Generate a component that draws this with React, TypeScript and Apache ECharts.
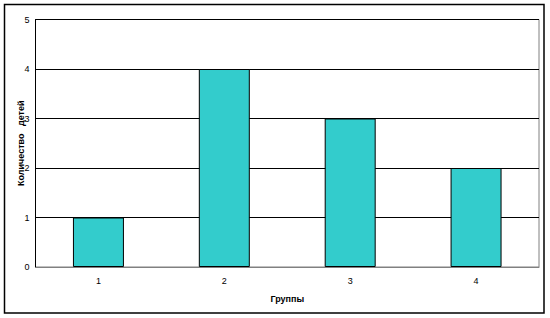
import React, { useEffect, useRef } from "react";
import * as echarts from "echarts";

const categories = ["1", "2", "3", "4"];
const values = [1, 4, 3, 2];
const yTicks = [0, 1, 2, 3, 4, 5];

export default function App() {
  const ref = useRef<HTMLDivElement>(null);
  useEffect(() => {
    if (!ref.current) return;
    const chart = echarts.init(ref.current, null, { renderer: "svg" });
    chart.setOption({
      animation: false,
      backgroundColor: "#ffffff",
      textStyle: { fontFamily: "Liberation Sans, Arial, sans-serif" },
      graphic: [
        {
          type: "rect",
          shape: { x: 4.5, y: 4.5, width: 539.5, height: 308.5 },
          style: { fill: "none", stroke: "#000", lineWidth: 1.5 },
          silent: true,
        },
        {
          type: "rect",
          shape: { x: 35.5, y: 19.5, width: 503.5, height: 247.5 },
          style: { fill: "none", stroke: "#808080", lineWidth: 1 },
          silent: true,
          z: -1,
        },
      ],
      grid: { left: 35.5, top: 19.5, right: 11, bottom: 51, containLabel: false },
      xAxis: {
        type: "category",
        data: categories,
        name: "Группы",
        nameLocation: "middle",
        nameGap: 27,
        nameMoveOverlap: false,
        nameTextStyle: { fontSize: 9, fontWeight: "bold", color: "#000" },
        axisLine: { lineStyle: { color: "#808080", width: 1 } },
        axisTick: { show: false },
        axisLabel: { fontSize: 9, color: "#000", margin: 9 },
      },
      yAxis: {
        type: "value",
        min: yTicks[0],
        max: yTicks[yTicks.length - 1],
        interval: 1,
        name: "Количество   детей",
        nameLocation: "middle",
        nameGap: 10,
        nameMoveOverlap: false,
        nameRotate: 90,
        nameTextStyle: { fontSize: 9, fontWeight: "bold", color: "#000" },
        axisLine: { show: true, lineStyle: { color: "#000", width: 1 } },
        axisTick: { show: false },
        axisLabel: { fontSize: 9, color: "#000", margin: 6 },
        splitLine: { lineStyle: { color: "#000", width: 1 } },
      },
      series: [
        {
          type: "bar",
          data: values,
          barWidth: "40.5%",
          itemStyle: { color: "#33CCCC", borderColor: "#000", borderWidth: 1 },
        },
      ],
    });
    return () => chart.dispose();
  }, []);
  return (
    <div
      ref={ref}
      style={{ position: "fixed", left: 0, top: 0, width: 550, height: 318 }}
    />
  );
}
